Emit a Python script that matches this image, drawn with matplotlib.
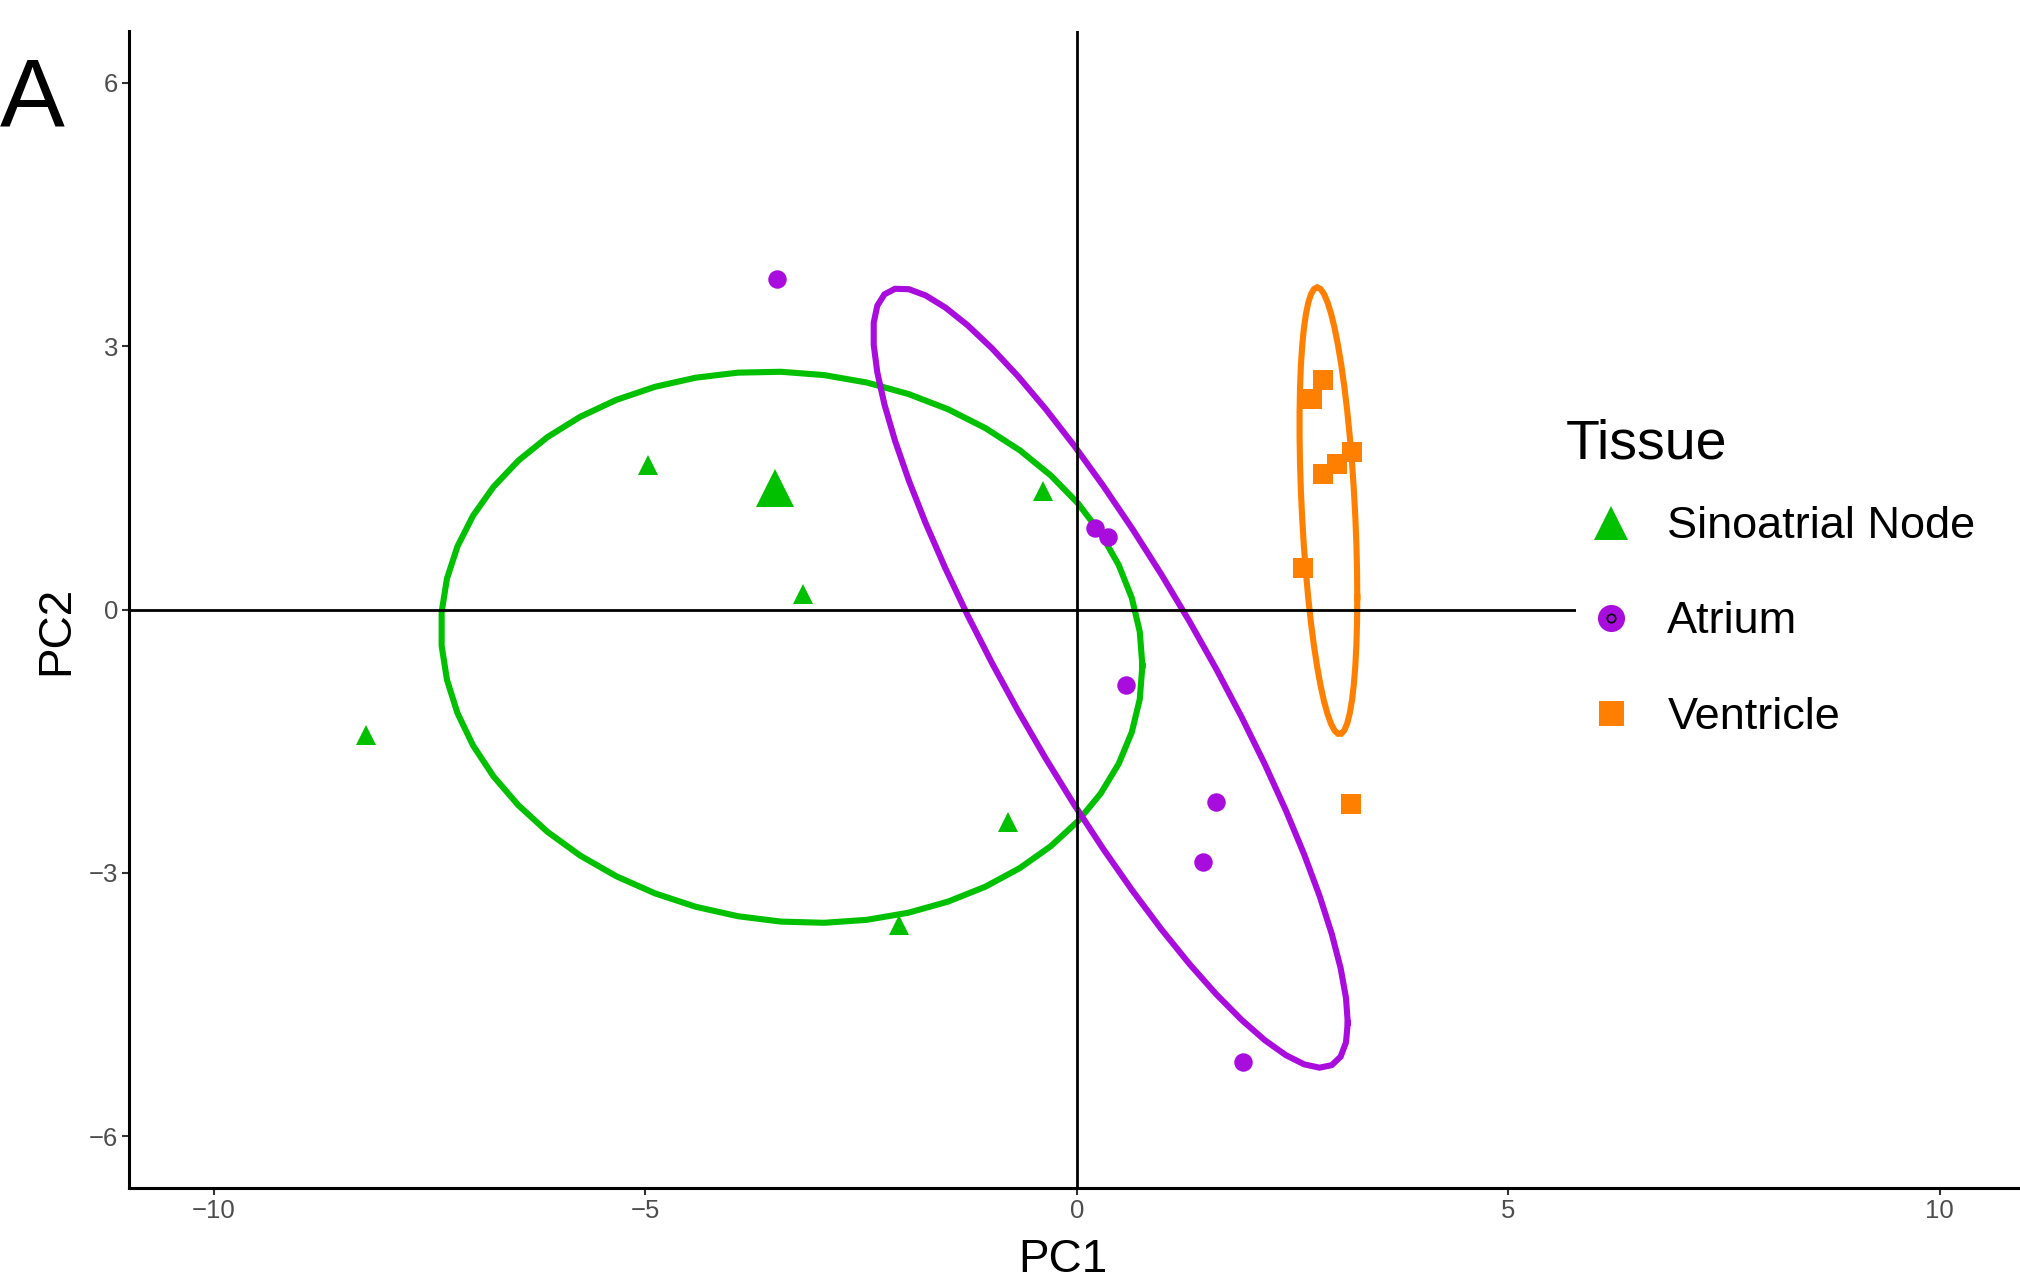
import numpy as np
import matplotlib
matplotlib.use("Agg")
import matplotlib.pyplot as plt
from matplotlib.lines import Line2D
from matplotlib.patches import Rectangle

plt.rcParams["font.family"] = ["Liberation Sans", "DejaVu Sans"]

# PCA scores per tissue
tissues = ["Sinoatrial Node", "Atrium", "Ventricle"]

san_pc1 = [-4.97, -3.50, -3.17, -0.39, -8.24, -0.80, -2.06]
san_pc2 = [1.65, 1.38, 0.18, 1.35, -1.43, -2.42, -3.59]
san_big = [False, True, False, False, False, False, False]

atrium_pc1 = [-3.48, 0.21, 0.36, 0.57, 1.61, 1.46, 1.93]
atrium_pc2 = [3.76, 0.93, 0.83, -0.86, -2.19, -2.88, -5.15]

ventricle_pc1 = [2.85, 2.72, 3.19, 3.02, 2.85, 2.62, 3.18]
ventricle_pc2 = [2.62, 2.40, 1.79, 1.66, 1.54, 0.47, -2.21]

# confidence ellipses: centre and shape matrix (sxx, sxy, syy)
ell_center = [(-3.305, -0.43), (0.39, -0.78), (2.915, 1.125)]
ell_shape = [(16.52, -0.85, 9.86), (7.56, -10.8, 19.71), (0.112, -0.33, 6.48)]

x_ticks = [-10, -5, 0, 5, 10]
y_ticks = [-6, -3, 0, 3, 6]

GREEN = "#00C000"
PURPLE = "#A80DDD"
ORANGE = "#FF8000"
colors = [GREEN, PURPLE, ORANGE]

W, H = 2020, 1278


def ellipse_path(center, shape, segments=51):
    # same construction as ggplot's stat_ellipse: unit circle times chol(shape)
    sxx, sxy, syy = shape
    r11 = np.sqrt(sxx)
    r12 = sxy / r11
    r22 = np.sqrt(syy - r12 ** 2)
    t = np.linspace(0, 2 * np.pi, segments + 1)
    x = center[0] + np.cos(t) * r11
    y = center[1] + np.cos(t) * r12 + np.sin(t) * r22
    return x, y


fig = plt.figure(figsize=(W / 100, H / 100), dpi=100)
ax = fig.add_axes([129 / W, 90 / H, 1 - 129 / W, (1188 - 31) / H])

for c, s, col in zip(ell_center, ell_shape, colors):
    ex, ey = ellipse_path(c, s)
    ax.plot(ex, ey, color=col, lw=4.4, zorder=2, solid_joinstyle="miter")

ax.axhline(0, color="black", lw=2.0, zorder=3)
ax.axvline(0, color="black", lw=2.0, zorder=3)

for x, y, big in zip(san_pc1, san_pc2, san_big):
    ax.plot(x, y, marker="^", ms=28 if big else 14.4, color=GREEN,
            markeredgewidth=0, ls="none", zorder=4)
ax.plot(atrium_pc1, atrium_pc2, marker="o", ms=13.3, color=PURPLE,
        markeredgewidth=0, ls="none", zorder=4)
ax.plot(ventricle_pc1, ventricle_pc2, marker="s", ms=13.7, color=ORANGE,
        markeredgewidth=0, ls="none", zorder=4)

ax.set_xlim(-10.985, 10.93)
ax.set_ylim(-6.59, 6.59)
ax.set_xticks(x_ticks)
ax.set_yticks(y_ticks)
ax.set_xticklabels([str(v).replace("-", "\u2212") for v in x_ticks])
ax.set_yticklabels([str(v).replace("-", "\u2212") for v in y_ticks])
ax.tick_params(axis="both", colors="#333333", labelcolor="#4d4d4d",
               labelsize=18.5, length=5, width=1.5, pad=3)

for side in ["top", "right"]:
    ax.spines[side].set_visible(False)
for side in ["left", "bottom"]:
    ax.spines[side].set_linewidth(2.2)

ax.set_xlabel("PC1", fontsize=33)
ax.set_ylabel("PC2", fontsize=33)
ax.xaxis.set_label_coords(0.494, -0.062)
ax.xaxis.label.set_va("center")
ax.yaxis.set_label_coords(-0.0386, 0.482)
ax.yaxis.label.set_va("center")

# white legend background running to the right edge
ax.add_patch(Rectangle((1576 / W, 1 - 770 / H), 1 - 1576 / W, 400 / H,
                       transform=fig.transFigure, facecolor="white",
                       edgecolor="none", zorder=9, clip_on=False))

# legend keys
h_san = Line2D([], [], marker="^", ms=25, color=GREEN, markeredgewidth=0, ls="none")
h_atr_fill = Line2D([], [], marker="o", ms=19.5, color=PURPLE, markeredgewidth=0, ls="none")
h_atr_ring = Line2D([], [], marker="o", ms=6, markerfacecolor="none",
                    markeredgecolor="black", markeredgewidth=1.2, ls="none")
h_ven = Line2D([], [], marker="s", ms=18, color=ORANGE, markeredgewidth=0, ls="none")

leg = ax.legend([h_san, (h_atr_fill, h_atr_ring), h_ven], tissues,
                fontsize=32.5, loc="center left",
                bbox_to_anchor=(1568 / W, 1 - 622 / H),
                bbox_transform=fig.transFigure, frameon=False,
                borderpad=0.1, handlelength=1.71, handletextpad=0.39,
                labelspacing=1.2, borderaxespad=0)
leg.set_zorder(10)

fig.text(1566 / W, 1 - 458 / H, "Tissue", fontsize=40, ha="left", va="baseline")
fig.text(0.0, 1 - 126 / H, "A", fontsize=70, ha="left", va="baseline")

fig.savefig("out.png", dpi=100)
